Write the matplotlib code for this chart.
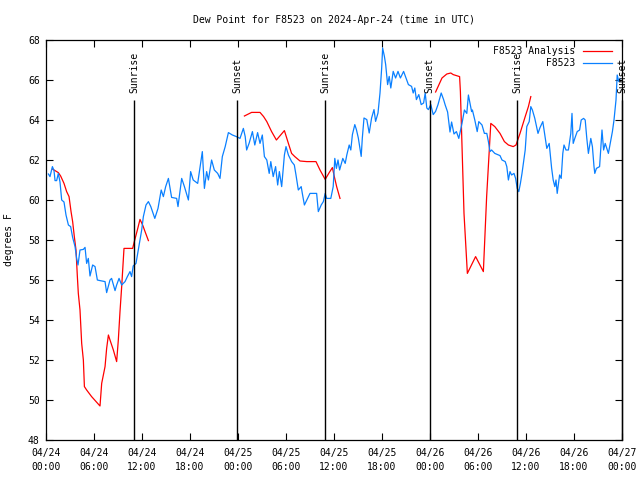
import numpy as np
import pandas as pd
import matplotlib
matplotlib.use("Agg")
import matplotlib.pyplot as plt
import matplotlib.dates as mdates

plt.rcParams['font.family'] = ['DejaVu Sans Mono']
FS = 7

base = pd.Timestamp("2024-04-24 00:00")

# Analysis series (hours after 04/24 00:00 UTC, dew point F); NaN = gap
analysis_hours = [0.8, 1.54, 1.83, 2.25, 2.58, 2.88, 3.13, 3.33, 3.54, 3.75, 3.92, 4.04, 4.25, 4.46,
                  4.67, 4.8, 5.08, 5.7, 6.75, 6.96, 7.17, 7.38, 7.58, 7.8, 8.0, 8.42, 8.83, 9.04, 9.25,
                  9.46, 9.75, 10.83, 11.04, 11.42, 11.75, 12.08, 12.38, 12.8, 18.0,
                  24.8, 25.7, 26.75, 27.2, 27.6, 28.2, 28.8, 29.8, 30.3, 30.7, 31.1, 31.75, 32.6,
                  33.75, 34.25, 34.9, 35.4, 35.8, 36.04, 36.33, 36.75, 42.0,
                  48.7, 49.5, 50.1, 50.6, 50.9, 51.7, 51.8, 52.25, 52.67, 53.7, 54.67, 55.08, 55.6,
                  56.1, 56.75, 57.3, 57.8, 58.4, 58.75, 59.25, 59.9, 60.3, 60.6]
analysis_vals = [61.55, 61.37, 61.2, 60.83, 60.42, 60.17, 59.42, 58.92, 58.17, 57.5, 56.17, 55.33, 54.5, 52.83,
                 52.0, 50.67, 50.5, 50.17, 49.7, 50.83, 51.25, 51.67, 52.58, 53.25, 53.0, 52.5, 51.92, 53.0, 54.42,
                 55.67, 57.58, 57.58, 57.92, 58.5, 59.03, 58.75, 58.42, 57.97, np.nan,
                 64.2, 64.38, 64.38, 64.17, 63.92, 63.42, 63.0, 63.47, 62.83, 62.33, 62.17, 61.95, 61.92,
                 61.92, 61.5, 61.03, 61.37, 61.62, 61.17, 60.67, 60.08, np.nan,
                 65.4, 66.1, 66.3, 66.35, 66.27, 66.17, 65.42, 59.33, 56.33, 57.17, 56.42, 60.17, 63.83,
                 63.67, 63.33, 62.92, 62.75, 62.67, 62.75, 63.33, 64.17, 64.67, 65.17]

# Station series
station_hours = [0.3, 0.5, 0.8, 1.0, 1.13, 1.33, 1.54, 1.75, 1.96, 2.25, 2.5, 2.8, 3.08, 3.33, 3.63, 3.83,
                 4.0, 4.25, 4.67, 4.88, 5.08, 5.29, 5.5, 5.83, 6.13, 6.42, 6.75, 7.38, 7.58, 8.0, 8.2,
                 8.63, 8.83, 9.13, 9.46, 9.88, 10.17, 10.5, 10.7, 10.9, 11.25, 11.54, 11.96, 12.17, 12.5,
                 12.8, 13.1, 13.6, 14.0, 14.4, 14.67, 14.96, 15.3, 15.7, 16.33, 16.5, 16.96, 17.3, 17.8,
                 18.08, 18.4, 18.96, 19.54, 19.8, 20.08, 20.3, 20.7, 21.04, 21.46, 21.75, 22.04, 22.4,
                 22.8, 23.3, 23.8, 24.25, 24.67, 24.9, 25.08, 25.4, 25.8, 26.1, 26.45, 26.75, 27.04,
                 27.3, 27.6, 27.9, 28.1, 28.4, 28.7, 28.96, 29.17, 29.46, 29.8, 30.0, 30.3, 30.7, 31.04,
                 31.25, 31.54, 31.9, 32.04, 32.3, 32.6, 33.0, 33.83, 34.04, 34.4, 34.67, 34.9, 35.08,
                 35.6, 35.9, 36.1, 36.3, 36.5, 36.7, 37.1, 37.4, 37.6, 37.9, 38.1, 38.3, 38.6, 38.8,
                 39.04, 39.4, 39.54, 39.75, 40.1, 40.4, 40.7, 41.0, 41.2, 41.5, 41.75, 41.96, 42.08,
                 42.3, 42.46, 42.7, 42.9, 43.1, 43.4, 43.7, 44.0, 44.3, 44.7, 45.0, 45.3, 45.7, 45.9,
                 46.1, 46.3, 46.6, 46.9, 47.2, 47.4, 47.6, 47.8, 48.1, 48.4, 48.7, 49.0, 49.4, 49.7,
                 49.9, 50.2, 50.5, 50.7, 51.0, 51.3, 51.6, 52.0, 52.3, 52.6, 52.8, 53.0, 53.2, 53.3,
                 53.6, 53.9, 54.1, 54.5, 54.8, 55.1, 55.3, 55.5, 55.7, 56.1, 56.75, 57.0, 57.4, 57.6,
                 57.8, 58.0, 58.2, 58.5, 58.7, 58.9, 59.1, 59.3, 59.5, 59.9, 60.1, 60.4, 60.6, 60.8,
                 61.1, 61.5, 61.75, 62.1, 62.4, 62.6, 62.9, 63.2, 63.4, 63.6, 63.75, 63.9, 64.2, 64.4,
                 64.6, 64.75, 65.0, 65.3, 65.6, 65.75, 65.9, 66.1, 66.4, 66.7, 66.9, 67.2, 67.4, 67.6,
                 67.8, 68.1, 68.3, 68.5, 68.6, 68.8, 69.2, 69.5, 69.7, 69.9, 70.1, 70.3, 70.6, 70.8,
                 71.0, 71.25, 71.4, 71.6, 71.75]
station_vals = [61.3, 61.17, 61.67, 61.47, 60.97, 60.97, 61.33, 60.9, 60.0, 59.9, 59.25, 58.75, 58.67, 58.13,
                57.67, 57.08, 56.75, 57.5, 57.53, 57.63, 56.83, 57.08, 56.2, 56.75, 56.67, 56.0, 55.97,
                55.92, 55.37, 56.0, 56.08, 55.47, 55.75, 56.08, 55.75, 55.92, 56.17, 56.42, 56.17, 56.7,
                56.83, 57.5, 58.5, 59.17, 59.75, 59.92, 59.67, 59.08, 59.58, 60.5, 60.17, 60.67, 61.08,
                60.13, 60.08, 59.67, 61.08, 60.67, 60.0, 61.42, 61.0, 60.83, 62.42, 60.58, 61.42, 61.0,
                62.0, 61.5, 61.33, 61.08, 62.17, 62.67, 63.37, 63.25, 63.17, 63.08, 63.58, 63.17, 62.5,
                62.85, 63.42, 62.75, 63.37, 62.83, 63.25, 62.17, 62.0, 61.33, 61.92, 61.17, 61.67, 60.75,
                61.42, 60.67, 62.25, 62.67, 62.25, 61.92, 61.75, 61.25, 60.5, 60.67, 60.33, 59.75, 60.0,
                60.33, 60.33, 59.42, 59.75, 59.92, 60.33, 60.08, 60.08, 60.67, 62.08, 61.58, 62.0, 61.5,
                62.08, 61.83, 62.25, 62.75, 62.5, 63.27, 63.77, 63.52, 63.1, 62.18, 63.1, 64.1, 64.02,
                63.35, 64.1, 64.52, 63.93, 64.35, 65.35, 66.6, 67.6, 67.18, 66.77, 65.77, 66.18, 65.6,
                66.43, 66.1, 66.43, 66.1, 66.43, 66.1, 65.77, 65.68, 65.35, 65.6, 65.02, 65.27, 64.77,
                64.85, 65.35, 64.6, 64.52, 64.77, 64.27, 64.43, 64.77, 65.35, 65.02, 64.75, 64.4, 63.4,
                63.9, 63.3, 63.42, 63.08, 63.83, 64.5, 64.33, 65.25, 64.83, 64.42, 64.5, 64.0, 63.42,
                63.92, 63.75, 63.33, 63.33, 62.92, 62.42, 62.5, 62.33, 62.22, 62.0, 61.92, 61.67, 61.0,
                61.42, 61.25, 61.33, 61.08, 60.58, 60.42, 60.83, 61.33, 62.5, 63.67, 63.92, 64.67, 64.5,
                64.08, 63.33, 63.62, 63.92, 63.12, 62.58, 62.83, 61.6, 61.0, 60.67, 61.0, 60.33, 61.25,
                61.08, 62.33, 62.75, 62.5, 62.5, 63.33, 64.33, 62.83, 63.08, 63.42, 63.5, 64.0, 64.08,
                64.0, 63.08, 62.33, 63.08, 62.67, 61.67, 61.33, 61.58, 61.67, 63.5, 62.5, 62.83, 62.58,
                62.33, 63.0, 63.42, 64.0, 65.0, 66.25, 65.92, 66.08]

sun_labels = ["Sunrise", "Sunset", "Sunrise", "Sunset", "Sunrise", "Sunset"]
sun_hours = [11.04, 23.9, 34.92, 47.96, 58.92, 72.0]

x_tick_hours = list(range(0, 73, 6))
y_ticks = list(range(48, 69, 2))

def to_time(hours):
    return base + pd.to_timedelta(np.asarray(hours, dtype=float), unit="h")

fig = plt.figure(figsize=(6.4, 4.8), dpi=100)
ax = fig.add_axes([46/640, 40/480, 576/640, 400/480])

ax.plot(to_time(analysis_hours), analysis_vals, color="#ff0000", lw=0.9, label="F8523 Analysis")
ax.plot(to_time(station_hours), station_vals, color="#0a80ff", lw=0.9, label="         F8523")

sun_t = to_time(sun_hours)
ax.vlines(sun_t, 48, 65, color="black", lw=1.0, clip_on=False)
for t, lab in zip(sun_t, sun_labels):
    ax.text(t, 65.35, lab, rotation=90, ha="center", va="bottom", fontsize=FS)

ax.set_xlim(base, base + pd.Timedelta(hours=72))
ax.set_ylim(48, 68)

xt = to_time(x_tick_hours)
ax.set_xticks(xt)
labels = ax.set_xticklabels([t.strftime("%m/%d\n%H:%M") for t in xt], fontsize=FS)
for l in labels:
    l.set_linespacing(1.45)
ax.set_yticks(y_ticks)
ax.set_yticklabels([str(v) for v in y_ticks], fontsize=FS)

ax.tick_params(direction="in", top=True, right=True, length=5, width=0.8)
ax.tick_params(axis="x", pad=6)
ax.tick_params(axis="y", pad=4.5)
for s in ax.spines.values():
    s.set_linewidth(0.9)

ax.set_ylabel("degrees F", fontsize=FS, labelpad=10)
ax.set_title("Dew Point for F8523 on 2024-Apr-24 (time in UTC)", fontsize=FS, pad=12)

leg = ax.legend(loc="upper right", bbox_to_anchor=(566/576, 0.984), frameon=False,
                markerfirst=False, fontsize=FS, handlelength=3.0, handletextpad=0.8,
                borderpad=0, borderaxespad=0, labelspacing=0.2)

fig.savefig("out.png", dpi=100)
